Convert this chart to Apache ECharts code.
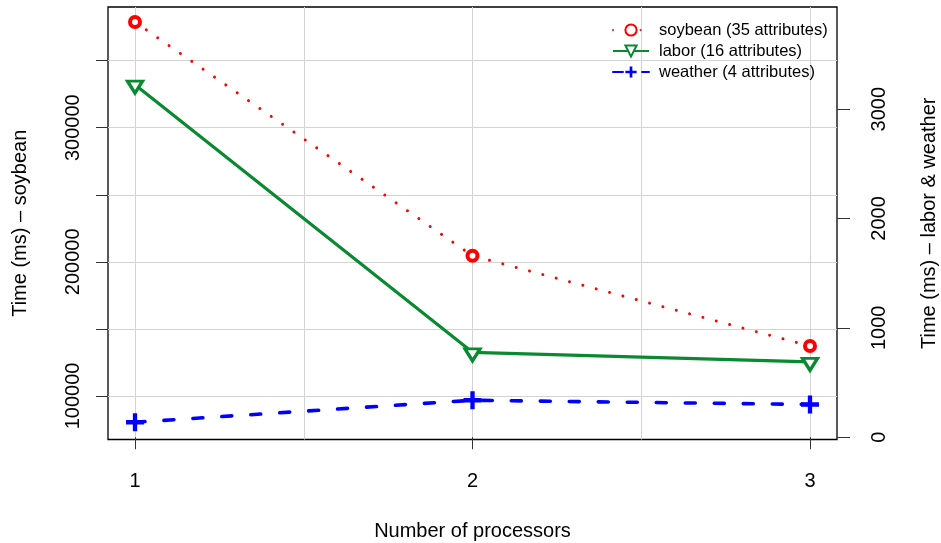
<!DOCTYPE html>
<html>
<head>
<meta charset="utf-8">
<script src="https://cdn.jsdelivr.net/npm/echarts@6/dist/echarts.min.js"></script>
<style>
html,body{margin:0;padding:0;background:#fff;}
#chart{width:941px;height:543px;}
</style>
</head>
<body>
<div id="chart"></div>
<script>
// ---- data ----
const processors = [1, 2, 3];
const soybean = [378800, 204500, 137200];   // left axis
const labor = [3224, 776, 689];              // right axis
const weather = [137, 338, 299];             // right axis
const xTicks = [1, 2, 3];
const xGrid = [1, 1.5, 2, 2.5, 3];
const leftTicks = [100000, 150000, 200000, 250000, 300000, 350000];
const leftLabels = [100000, 200000, 300000];
const rightTicks = [0, 1000, 2000, 3000];
const seriesNames = ['soybean (35 attributes)', 'labor (16 attributes)', 'weather (4 attributes)'];

const FONT = 'Liberation Sans, Arial, Helvetica, sans-serif';
const plusPath = 'path://M0.38,0H0.62V0.38H1V0.62H0.62V1H0.38V0.62H0V0.38H0.38Z';
const plain = v => String(v);

function pairs(xs, ys) { return xs.map((x, i) => [x, ys[i]]); }

const chart = echarts.init(document.getElementById('chart'));
chart.setOption({
  animation: false,
  backgroundColor: '#fff',
  textStyle: { fontFamily: FONT },
  grid: { left: 108, right: 104, top: 7, bottom: 103.5, show: true, borderColor: '#000', borderWidth: 1.3, containLabel: false, outerBoundsMode: 'none' },
  legend: {
    orient: 'vertical', left: 607, top: 15, itemWidth: 36, itemHeight: 14, itemGap: 1,
    data: seriesNames,
    textStyle: { fontSize: 16.5, color: '#000', fontFamily: FONT, lineHeight: 20, padding: [0, 0, 0, 5] }
  },
  xAxis: [
    {
      type: 'value', min: 0.92, max: 3.08, position: 'bottom',
      name: 'Number of processors', nameLocation: 'middle', nameGap: 82,
      nameTextStyle: { fontSize: 20, color: '#000', fontFamily: FONT },
      axisLine: { show: false },
      axisTick: { show: true, length: 12, customValues: xTicks, lineStyle: { color: '#333', width: 1 } },
      axisLabel: { show: true, customValues: xTicks, fontSize: 20, color: '#000', margin: 32, fontFamily: FONT, formatter: plain },
      splitLine: { show: false }
    },
    {
      type: 'value', min: 0.92, max: 3.08, position: 'top',
      axisLine: { show: false },
      axisTick: { show: false, customValues: xGrid },
      axisLabel: { show: false, customValues: xGrid },
      splitLine: { show: true, lineStyle: { color: '#d3d3d3', width: 1 } }
    }
  ],
  yAxis: [
    {
      type: 'value', min: 67500, max: 390000, position: 'left',
      name: 'Time (ms) \u2013 soybean', nameLocation: 'middle', nameGap: 78, nameRotate: 90,
      nameTextStyle: { fontSize: 20, color: '#000', fontFamily: FONT },
      axisLine: { show: false },
      axisTick: { show: true, length: 12, customValues: leftTicks, lineStyle: { color: '#333', width: 1 } },
      axisLabel: { show: true, customValues: leftLabels, rotate: 90, fontSize: 20, color: '#000', margin: 25, fontFamily: FONT, formatter: plain },
      splitLine: { show: true, lineStyle: { color: '#d3d3d3', width: 1 } }
    },
    {
      type: 'value', min: -21, max: 3934, position: 'right',
      name: 'Time (ms) \u2013 labor & weather', nameLocation: 'middle', nameGap: 82, nameRotate: 90,
      nameTextStyle: { fontSize: 20, color: '#000', fontFamily: FONT },
      axisLine: { show: false },
      axisTick: { show: true, length: 13, customValues: rightTicks, lineStyle: { color: '#333', width: 1 } },
      axisLabel: { show: true, customValues: rightTicks, rotate: 90, fontSize: 20, color: '#000', margin: 32, fontFamily: FONT, formatter: plain },
      splitLine: { show: false }
    }
  ],
  series: [
    {
      name: seriesNames[0], type: 'line', xAxisIndex: 0, yAxisIndex: 0,
      data: pairs(processors, soybean),
      symbol: 'circle', symbolSize: 10,
      itemStyle: { color: '#ffffff', borderColor: '#ff0000', borderWidth: 4 },
      lineStyle: { color: '#ff0000', width: 3, type: [0.01, 13.8], cap: 'round' },
      z: 3
    },
    {
      name: seriesNames[1], type: 'line', xAxisIndex: 0, yAxisIndex: 1,
      data: pairs(processors, labor),
      symbol: 'triangle', symbolSize: [15, 12], symbolRotate: 180, symbolOffset: [0, 2.5],
      itemStyle: { color: '#ffffff', borderColor: '#0a8a30', borderWidth: 3.2 },
      lineStyle: { color: '#0a8a30', width: 3.2 },
      z: 3
    },
    {
      name: seriesNames[2], type: 'line', xAxisIndex: 0, yAxisIndex: 1,
      data: pairs(processors, weather),
      symbol: plusPath, symbolSize: 18,
      itemStyle: { color: '#0000ff', borderWidth: 0 },
      lineStyle: { color: '#0000ff', width: 3.6, type: [10, 19], cap: 'round' },
      z: 3
    }
  ]
});
</script>
</body>
</html>
